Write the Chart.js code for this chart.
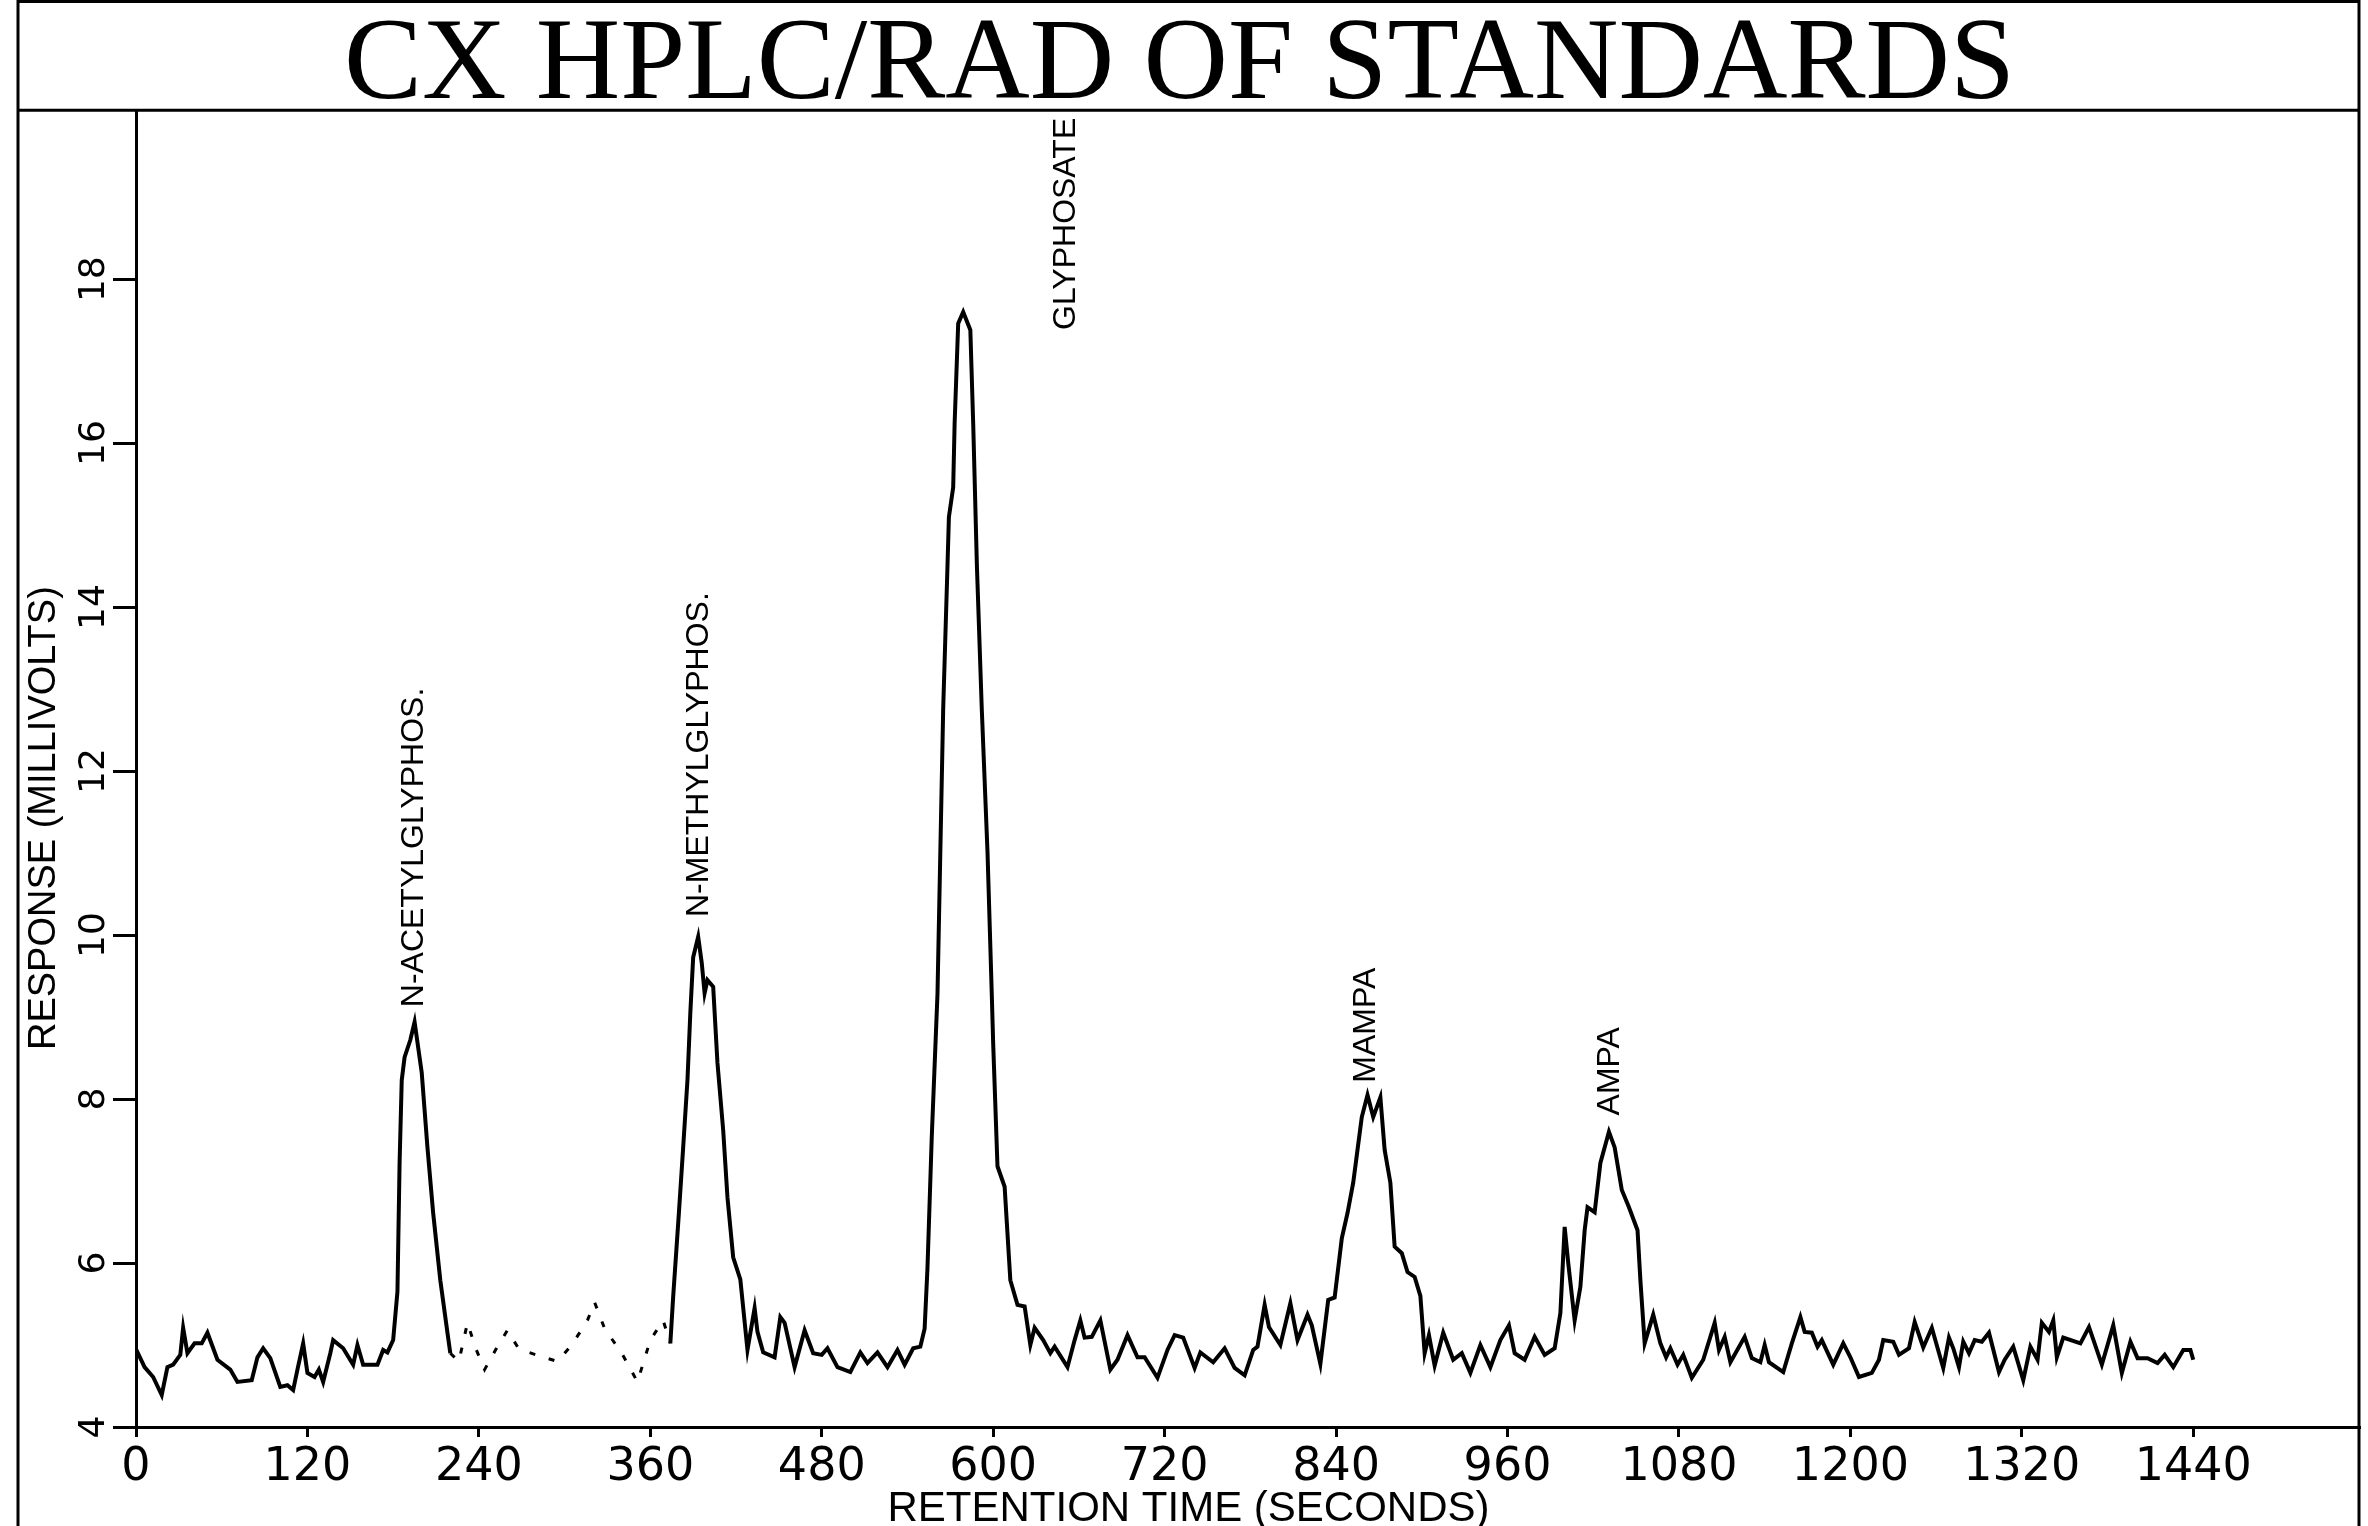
<!DOCTYPE html>
<html><head><meta charset="utf-8">
<script src="https://cdn.jsdelivr.net/npm/chart.js@4/dist/chart.umd.min.js"></script>
<style>html,body{margin:0;padding:0;background:#fff;}canvas{display:block;}</style>
</head><body>
<canvas id="c" width="2368" height="1526"></canvas>
<script>
const titleText = 'CX HPLC/RAD OF STANDARDS';
const xAxisTitle = 'RETENTION TIME (SECONDS)';
const yAxisTitle = 'RESPONSE (MILLIVOLTS)';
const xTickValues = [0,120,240,360,480,600,720,840,960,1080,1200,1320,1440];
const yTickValues = [4,6,8,10,12,14,16,18];
const xRange = [0, 1556];
const yRange = [4, 20.06];

const retentionTime = [
0,6,12,18,22,26,31,33,36,41,46,50,57,66,71,81,85,89,94,101,106,110,113,117,120,125,128,131,136,138,145,152,155,159,169,173,176,180,183,184.5,186,188,192,195,200,204,208,213,218,220,
226,232,238,244,252,260,268,280,295,305,316,321,328,340,351,360,369,374,
376,380,383,386,388,390,393.5,396,398,400,404,407,411,414,418,423,428,433,435,439,447,451,454,461,468,474,480,484,491,500,507,512,519,526,533,538,544,549,552,
554,557,561,563,565,568,569,572,573,575.5,579,584,586,588.6,592,596,599,600,603,608,612,617,622,626,629,635,640,643,652,657,661,664,669,675,682,687,694,701,706,715,722,727,733,741,745,754,762,769,776,782,785,790,793,801,808,813,820,823,829,
834.5,839,844,848,852,855,858,862,866,871,874,878,881,886,890,895,899,902,905,909,915,922,928,934,941,948,955,961,965,972,979,986,993,997,
1000,1002.5,1007,1011,1014,1016,1021,1025,1031,1035,1040,1045,1051,1053,1056,1062,1067,1071,1074,1079,1083,1089,1097,1105,1108,1112,1116,1126,1131,1137,1140,1143,1153,1159,1165,1168,1173,1177,1180,1188,1195,1200,1206,1215,1220,1223,1230,1234,1241,1245,1251,1257,1265,1269,1272,1276,1279,1283,1287,1292,1297,1304,1308,1314,1321,1326,1331,1334,1339,1342,1344.5,1349,1361,1367,1376,1384,1390,1396,1401,1408,1415,1420,1426,1433,1438,1440
];
const response = [
4.95,4.73,4.61,4.39,4.73,4.76,4.88,5.21,4.90,5.02,5.02,5.15,4.82,4.70,4.55,4.57,4.85,4.96,4.84,4.49,4.51,4.45,4.70,5.02,4.66,4.61,4.70,4.55,4.90,5.06,4.96,4.76,5.00,4.76,4.76,4.94,4.91,5.06,5.65,7.22,8.23,8.51,8.72,8.94,8.32,7.41,6.61,5.79,5.15,4.90,
4.80,5.27,4.95,4.70,4.95,5.18,4.95,4.88,4.80,5.00,5.30,5.52,5.20,4.90,4.55,5.06,5.30,5.02,
5.59,6.61,7.41,8.23,9.05,9.73,9.98,9.66,9.29,9.45,9.37,8.44,7.62,6.80,6.07,5.80,4.94,5.45,5.16,4.91,4.85,5.34,5.27,4.73,5.18,4.90,4.88,4.96,4.73,4.67,4.91,4.78,4.91,4.73,4.94,4.76,4.96,4.98,5.20,
5.94,7.54,9.28,11.02,12.76,14.5,15.1,15.46,16.24,17.46,17.6,17.38,16.24,14.5,12.76,11.02,9.28,8.67,7.18,6.93,5.79,5.49,5.47,5.00,5.21,5.06,4.90,4.98,4.73,5.06,5.30,5.09,5.10,5.30,4.70,4.82,5.12,4.85,4.85,4.60,4.94,5.12,5.09,4.72,4.91,4.79,4.96,4.72,4.63,4.94,4.98,5.49,5.22,5.00,5.51,5.06,5.37,5.24,4.77,
5.55,5.58,6.30,6.61,6.98,7.38,7.78,8.05,7.78,8.02,7.38,6.98,6.20,6.12,5.89,5.83,5.60,4.90,5.12,4.75,5.15,4.82,4.90,4.66,5.00,4.73,5.06,5.24,4.90,4.82,5.10,4.88,4.96,5.39,
6.44,6.00,5.30,5.71,6.40,6.68,6.62,7.22,7.60,7.41,6.89,6.68,6.40,5.79,5.02,5.37,5.02,4.85,4.96,4.76,4.88,4.60,4.82,5.27,4.94,5.10,4.79,5.10,4.84,4.79,5.00,4.79,4.67,5.02,5.34,5.16,5.15,4.98,5.06,4.76,5.02,4.85,4.61,4.66,4.82,5.06,5.04,4.88,4.96,5.28,4.97,5.21,4.72,5.09,4.96,4.73,5.04,4.90,5.06,5.04,5.15,4.67,4.82,4.98,4.57,4.98,4.82,5.27,5.16,5.30,4.85,5.09,5.02,5.22,4.76,5.24,4.66,5.04,4.84,4.84,4.78,4.88,4.73,4.94,4.94,4.82
];
// faded (poorly reproduced) stretch of the trace
const fadedFrom = 220, fadedTo = 374;

const peakNames = ['N-ACETYLGLYPHOS.','N-METHYLGLYPHOS.','GLYPHOSATE','MAMPA','AMPA'];
const peakLabelTime = [195, 394, 651, 861, 1032];
const peakLabelResponse = [9.12, 10.22, 17.38, 8.2, 7.8];

const points = retentionTime.map((t, i) => ({x: t, y: response[i]}));

const frame = {
  id: 'frame',
  beforeDraw(chart) {
    const c = chart.ctx;
    c.save(); c.fillStyle = '#fff'; c.fillRect(0, 0, chart.width, chart.height); c.restore();
  },
  afterDraw(chart) {
    const c = chart.ctx, a = chart.chartArea;
    c.save();
    c.strokeStyle = '#000'; c.lineWidth = 3;
    c.beginPath();
    c.moveTo(18, chart.height); c.lineTo(18, 1.5); c.lineTo(a.right, 1.5); c.lineTo(a.right, chart.height);
    c.moveTo(18, a.top); c.lineTo(a.right, a.top);
    c.stroke();
    // axis titles, centred on the framed panel as in the original drawing
    c.fillStyle = '#000';
    c.font = '42px "Liberation Sans", Arial, sans-serif';
    c.textAlign = 'center'; c.textBaseline = 'alphabetic';
    c.fillText(xAxisTitle, (18 + a.right) / 2, chart.height - 5);
    c.font = '38px "Liberation Sans", Arial, sans-serif';
    c.textBaseline = 'middle';
    c.translate(45, (a.top + chart.height) / 2);
    c.rotate(-Math.PI / 2);
    c.fillText(yAxisTitle, 0, 0);
    c.restore();
  }
};

const peakLabels = {
  id: 'peakLabels',
  afterDatasetsDraw(chart) {
    const c = chart.ctx, xs = chart.scales.x, ys = chart.scales.y;
    c.save();
    c.fillStyle = '#000';
    c.font = '32px "Liberation Sans", Arial, sans-serif';
    c.textAlign = 'left'; c.textBaseline = 'middle';
    peakNames.forEach((name, i) => {
      c.save();
      c.translate(xs.getPixelForValue(peakLabelTime[i]), ys.getPixelForValue(peakLabelResponse[i]));
      c.rotate(-Math.PI / 2);
      c.fillText(name, 0, 0);
      c.restore();
    });
    c.restore();
  }
};

new Chart(document.getElementById('c'), {
  type: 'line',
  data: { datasets: [{
    data: points,
    borderColor: '#000',
    borderWidth: 4,
    pointRadius: 0,
    tension: 0,
    fill: false,
    segment: {
      borderDash: ctx => (ctx.p0.parsed.x >= fadedFrom && ctx.p1.parsed.x <= fadedTo) ? [6, 14] : undefined,
      borderWidth: ctx => (ctx.p0.parsed.x >= fadedFrom && ctx.p1.parsed.x <= fadedTo) ? 3 : undefined
    }
  }]},
  options: {
    responsive: false, animation: false, devicePixelRatio: 1,
    layout: { padding: { left: 0, right: 9, top: 0, bottom: 0 } },
    plugins: {
      legend: { display: false }, tooltip: { enabled: false },
      title: { display: true, text: titleText, color: '#000',
        font: { family: '"Liberation Serif", "Times New Roman", serif', size: 117, weight: 'normal', lineHeight: 0.72 },
        padding: { top: 25, bottom: 1 } }
    },
    scales: {
      x: { type: 'linear', min: xRange[0], max: xRange[1],
        afterBuildTicks: s => { s.ticks = xTickValues.map(v => ({value: v})); },
        afterFit: s => { s.height = 99; },
        border: { display: true, color: '#000', width: 3 },
        grid: { drawOnChartArea: false, drawTicks: true, tickLength: 10, color: '#000', lineWidth: 3 },
        ticks: { color: '#000', padding: 8, maxRotation: 0, callback: v => String(v),
          font: { family: '"DejaVu Sans", sans-serif', size: 46, lineHeight: 1 } },
        title: { display: false, text: xAxisTitle }
      },
      y: { type: 'linear', min: yRange[0], max: yRange[1],
        afterBuildTicks: s => { s.ticks = yTickValues.map(v => ({value: v})); },
        afterFit: s => { s.width = 136; },
        border: { display: true, color: '#000', width: 3 },
        grid: { drawOnChartArea: false, drawTicks: true, tickLength: 23, color: '#000', lineWidth: 3 },
        ticks: { color: '#000', padding: -5, minRotation: 90, maxRotation: 90, crossAlign: 'center',
          callback: v => String(v),
          font: { family: '"DejaVu Sans", sans-serif', size: 36, lineHeight: 1 } },
        title: { display: false, text: yAxisTitle }
      }
    }
  },
  plugins: [frame, peakLabels]
});
</script>
</body></html>
